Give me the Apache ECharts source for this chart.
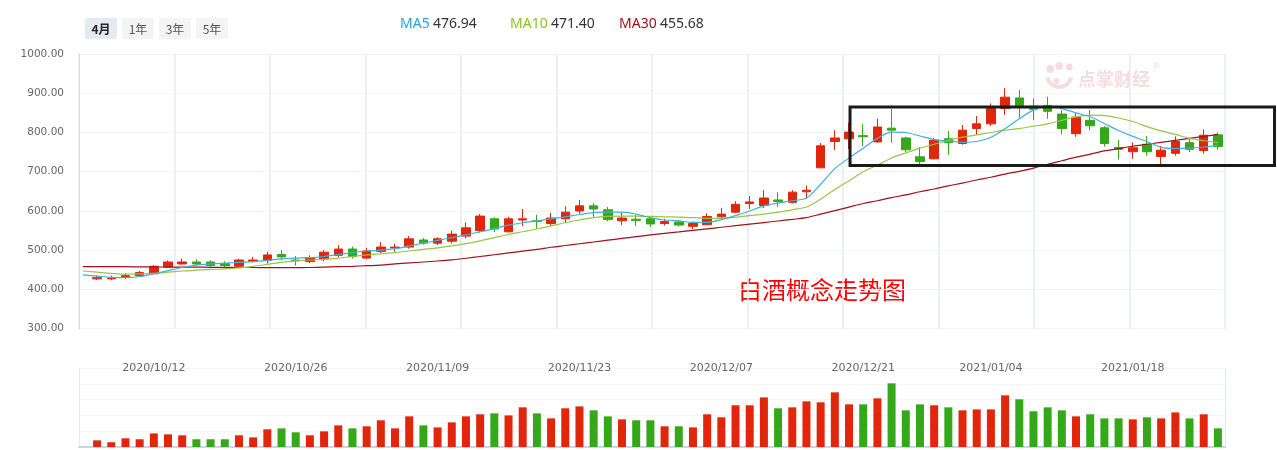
<!DOCTYPE html>
<html><head><meta charset="utf-8">
<script src="https://cdn.jsdelivr.net/npm/echarts/dist/echarts.min.js"></script>
<style>html,body{margin:0;padding:0;background:#fff}#c{width:1277px;height:450px}</style>
</head><body><div id="c"></div>
<script>
// first category only carries moving-average values (no candle / volume shown)
const dates = ['2020/09/25','2020/09/28','2020/09/29','2020/09/30','2020/10/09',
'2020/10/12','2020/10/13','2020/10/14','2020/10/15','2020/10/16',
'2020/10/19','2020/10/20','2020/10/21','2020/10/22','2020/10/23',
'2020/10/26','2020/10/27','2020/10/28','2020/10/29','2020/10/30',
'2020/11/02','2020/11/03','2020/11/04','2020/11/05','2020/11/06',
'2020/11/09','2020/11/10','2020/11/11','2020/11/12','2020/11/13',
'2020/11/16','2020/11/17','2020/11/18','2020/11/19','2020/11/20',
'2020/11/23','2020/11/24','2020/11/25','2020/11/26','2020/11/27',
'2020/11/30','2020/12/01','2020/12/02','2020/12/03','2020/12/04',
'2020/12/07','2020/12/08','2020/12/09','2020/12/10','2020/12/11',
'2020/12/14','2020/12/15','2020/12/16','2020/12/17','2020/12/18',
'2020/12/21','2020/12/22','2020/12/23','2020/12/24','2020/12/25',
'2020/12/28','2020/12/29','2020/12/30','2020/12/31',
'2021/01/04','2021/01/05','2021/01/06','2021/01/07','2021/01/08',
'2021/01/11','2021/01/12','2021/01/13','2021/01/14','2021/01/15',
'2021/01/18','2021/01/19','2021/01/20','2021/01/21','2021/01/22',
'2021/01/25','2021/01/26'];
const labelDates = ['2020/10/12','2020/10/26','2020/11/09','2020/11/23','2020/12/07','2020/12/21','2021/01/04','2021/01/18'];

const openP  = [null,
                427,427,431,435,440,457,465,470,470,466, 459,472,474,489,475,471,478,487,503,480,
                497,506,508,526,518,523,536,550,580,547, 577,575,568,580,600,613,603,575,579,580,
                568,572,561,565,585,597,619,614,628,622, 649,710,777,784,792,776,811,786,738,733,
                784,772,810,822,861,888,867,869,847,797, 831,812,762,751,770,739,747,774,754,794];
const closeP = [null,
                430,429,435,443,459,470,470,465,461,461, 475,475,488,483,473,481,495,503,484,498,
                508,508,529,518,529,541,557,587,554,580, 580,573,582,597,613,605,578,582,576,567,
                573,564,568,586,592,617,623,633,624,648, 653,766,786,801,789,814,806,756,726,780,
                774,806,822,861,890,868,859,854,810,839, 817,772,757,761,751,755,777,757,793,764];
const lowP   = [null,
                424,424,427,434,439,455,463,462,457,456, 457,469,466,474,461,467,472,482,479,477,
                492,496,504,514,513,517,530,545,546,545, 562,555,562,569,593,585,574,564,562,559,
                563,560,553,564,580,594,605,608,611,619, 631,709,756,758,766,774,774,750,716,731,
                743,769,794,817,845,838,832,835,795,789, 805,764,731,733,741,717,741,750,746,756];
const highP  = [null,
                436,435,441,447,462,474,479,477,474,472, 478,483,496,500,485,487,500,513,509,506,
                521,516,536,531,533,550,571,592,584,585, 605,590,595,612,628,620,610,595,590,587,
                580,576,573,594,608,625,638,653,648,653, 665,773,806,825,821,835,860,789,763,786,
                804,819,842,874,913,908,887,891,857,849, 857,817,781,775,791,766,790,787,808,800];

const volume = [null,
                42,30,55,49,86,80,74,49,49,49, 74,61,112,118,93,74,99,137,118,131,
                169,118,194,137,124,156,194,207,213,200, 251,213,181,245,257,232,194,175,169,169,
                131,131,124,207,188,264,264,314,245,251, 289,283,346,270,270,308,403,232,270,264,
                251,232,238,238,327,302,226,251,232,194, 207,181,181,175,188,181,219,181,207,118];

const ma5  = [437,
              434,431,430,433,440,448,456,462,465,467, 469,471,474,478,480,481,484,489,494,498,
              500,504,511,518,525,532,539,547,555,564, 570,575,580,585,591,596,597,597,592,583,
              577,575,571,571,578,588,600,613,620,626, 633,668,708,735,760,785,801,800,791,782,
              778,775,777,788,810,835,857,867,861,850, 840,823,805,790,777,762,759,760,763,768];
const ma10 = [447,
              444,441,439,439.5,441,444,447,449.5,451,452.5, 455,459,464,469,473,475,477,480,484,488,
              491,494,498,502,506,511,517,524,532,540, 547,554,562,570,577,583,586,587,587,586,
              585,584.5,583,581,581,584,588,592,597,603, 610,630,655,677,700,717,735,748,760,770,
              780,788,794,800,806,810,816,822,831,840, 844,843,837,828,815,804,795,785,779,774];
const ma30 = [458,
              458,458,458,457.5,457.5,457,457,457,456.5,456.5, 456,456,455.5,455.5,455.5,456,457,458,459,460.5,
              462,465,467.5,470,472.5,475.5,479.5,484,488.5,493, 497.5,502,507.5,512,516.5,521,525.5,530,534.5,539,
              543,546.5,550.5,554.5,558.5,562.5,566.5,570.5,574.5,578.5, 583,592,601,610,619,626,634,641,649,656,
              664,671,679,686,694,701,709,719,728,737, 745,753,759,765,770,775,780,785,790,795];

const maNames  = ['MA5','MA10','MA30'];
const maLatest = ['476.94','471.40','455.68'];
const maColors = ['#22a6d6','#8cc21f','#a3101c'];
const periods  = ['4月','1年','3年','5年'];
const titleText = '白酒概念走势图';
const boxFromDate = '2020/12/18', boxTop = 865, boxBottom = 716;

const RED = '#e1260b', GREEN = '#35a81a';
const WM = 'rgba(225,140,150,0.3)';
const chart = echarts.init(document.getElementById('c'));

const headerGraphics = [];
periods.forEach((p, i) => {
  headerGraphics.push({type:'group', left: 85 + i * 37, top: 18, children:[
    {type:'rect', shape:{x:0,y:0,width:32,height:21,r:2}, style:{fill: i===0 ? '#e5e9f2' : '#f4f4f5'}},
    {type:'text', x:16, y:11, style:{text:p, fill: i===0 ? '#222' : '#555',
      font:(i===0?'bold ':'')+'12px "Noto Sans CJK SC"', textAlign:'center', textVerticalAlign:'middle', align:'center', verticalAlign:'middle'}}
  ]});
});
const maX = [400, 510, 619];
maNames.forEach((n, i) => {
  headerGraphics.push({type:'text', left: maX[i], top: 17, style:{
    rich:{a:{fill:maColors[i], font:'14px "Noto Sans"'}, b:{fill:'#333', font:'14px "Noto Sans"'}},
    text:'{a|' + n + '} {b|' + maLatest[i] + '}'}});
});
headerGraphics.push({type:'text', left: 738, top: 278, style:{text:titleText, fill:'#ff0000', font:'24px "Noto Sans CJK SC"'}});
// faint watermark (logo + name)
headerGraphics.push({type:'group', left: 1045, top: 62, z:0, children:[
  {type:'circle', shape:{cx:6, cy:8, r:4}, style:{fill:WM}},
  {type:'circle', shape:{cx:15, cy:5, r:4}, style:{fill:WM}},
  {type:'circle', shape:{cx:25, cy:6, r:3.5}, style:{fill:WM}},
  {type:'arc', shape:{cx:15, cy:14, r:12, startAngle:0.2, endAngle:Math.PI - 0.2}, style:{stroke:WM, lineWidth:4, fill:'none'}},
  {type:'circle', shape:{cx:12, cy:20, r:3}, style:{fill:WM}}
]});
headerGraphics.push({type:'text', left: 1078, top: 70, z:0, style:{text:'点掌财经', fill:WM, font:'bold 18px "Noto Sans CJK SC"'}});
headerGraphics.push({type:'text', left: 1153, top: 63, z:0, style:{text:'®', fill:WM, font:'8px "Noto Sans"'}});

const option = {
  animation: false,
  grid: [
    {left:79, right:52, top:54, height:274.7},
    {left:75.8, right:52, top:54, height:274.7},
    {left:79, right:52, top:368, bottom:3},
    {left:75.8, right:52, top:368, bottom:3}
  ],
  xAxis: [
    {gridIndex:0, type:'value', min:0, max:12, interval:1, axisLine:{show:false}, axisTick:{show:false}, axisLabel:{show:false},
     splitLine:{show:true, lineStyle:{color:'#e6ebf3', width:1.5}}},
    {gridIndex:1, type:'category', data:dates, boundaryGap:true, axisLine:{show:false}, axisTick:{show:false},
     axisLabel:{interval:(i, v) => labelDates.includes(v), margin:34, color:'#666', fontSize:11, fontFamily:'DejaVu Sans'}},
    {gridIndex:2, type:'value', min:0, max:12, interval:1, axisLine:{show:true, lineStyle:{color:'#cdd6e8', width:2}}, axisTick:{show:false}, axisLabel:{show:false}, splitLine:{show:false}},
    {gridIndex:3, type:'category', data:dates, boundaryGap:true, show:false}
  ],
  yAxis: [
    {gridIndex:0, type:'value', min:300, max:1000, interval:100, axisLine:{show:true, lineStyle:{color:'#d3dbea'}}, axisTick:{show:false},
     axisLabel:{formatter:v => v.toFixed(2), color:'#666', fontSize:10.5, margin:15, fontFamily:'DejaVu Sans'},
     splitLine:{lineStyle:{color:'#f3f4f7'}}},
    {gridIndex:1, type:'value', min:300, max:1000, show:false},
    {gridIndex:2, type:'value', min:0, max:500, interval:100, axisLine:{show:true, lineStyle:{color:'#e3e8f1'}}, axisTick:{show:false}, axisLabel:{show:false},
     splitLine:{lineStyle:{color:'#f3f4f7'}}},
    {gridIndex:2, type:'value', min:0, max:500, interval:100, position:'right', axisLine:{show:true, lineStyle:{color:'#e3e8f1'}}, axisTick:{show:false}, axisLabel:{show:false}, splitLine:{show:false}},
    {gridIndex:3, type:'value', min:0, max:500, show:false}
  ],
  series: [
    {type:'candlestick', xAxisIndex:1, yAxisIndex:1, barWidth:9,
     data: dates.map((d, i) => openP[i] == null ? '-' : [openP[i], closeP[i], lowP[i], highP[i]]),
     itemStyle:{color:RED, color0:GREEN, borderColor:RED, borderColor0:GREEN, borderWidth:1}},
    {type:'line', name:'MA30', xAxisIndex:1, yAxisIndex:1, data:ma30, smooth:0.3, showSymbol:false, lineStyle:{color:maColors[2], width:1.2}},
    {type:'line', name:'MA10', xAxisIndex:1, yAxisIndex:1, data:ma10, smooth:0.3, showSymbol:false, lineStyle:{color:'#98c544', width:1.2}},
    {type:'line', name:'MA5', xAxisIndex:1, yAxisIndex:1, data:ma5, smooth:0.3, showSymbol:false, lineStyle:{color:'#3eb2da', width:1.2}},
    {type:'bar', xAxisIndex:3, yAxisIndex:4, barWidth:8,
     data: volume.map((v, i) => v == null ? '-' : ({value:v, itemStyle:{color: closeP[i] >= openP[i] ? RED : GREEN}}))}
  ],
  graphic: headerGraphics
};
chart.setOption(option);

const pTop = chart.convertToPixel({gridIndex:1}, [boxFromDate, boxTop]);
const pBot = chart.convertToPixel({gridIndex:1}, [boxFromDate, boxBottom]);
chart.setOption({graphic: headerGraphics.concat([{type:'rect', z:100,
  shape:{x:pTop[0] + 1, y:pTop[1], width: chart.getWidth() - 2.5 - (pTop[0] + 1), height: pBot[1] - pTop[1]},
  style:{fill:'none', stroke:'#1a1a1a', lineWidth:3}}])});
</script></body></html>
